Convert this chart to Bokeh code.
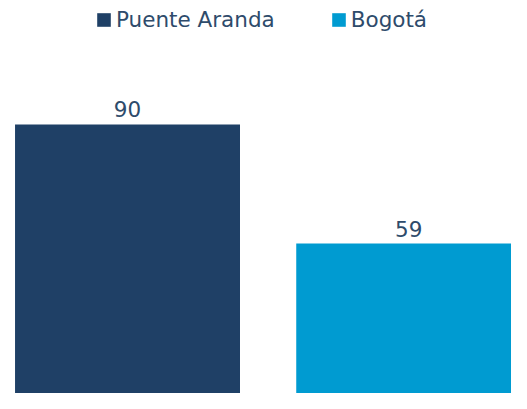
from bokeh.plotting import figure
from bokeh.models import ColumnDataSource, Range1d, LabelSet, Legend, LegendItem
from bokeh.core.properties import value
from bokeh.embed import file_html
from bokeh.resources import INLINE

categories = ["Puente Aranda", "Bogotá"]
values = [90, 59]
colors = ["#1F4066", "#009BD1"]
labels = [str(v) for v in values]

FONT = "DejaVu Sans"
TEXT_COLOR = "#2E4B6B"

xs = list(range(len(categories)))
src = ColumnDataSource(dict(x=xs, top=values, label=labels))

p = figure(width=511, height=393, output_backend="svg", toolbar_location=None,
           x_range=Range1d(-0.4517, 1.3655), y_range=Range1d(20, 122.25),
           min_border=0)
p.axis.visible = False
p.grid.visible = False
p.outline_line_color = None
p.background_fill_color = "white"

items = []
for i, c in enumerate(categories):
    s = ColumnDataSource(dict(x=[xs[i]], top=[values[i]]))
    r = p.vbar(x="x", top="top", bottom=0, width=0.8, source=s,
               fill_color=colors[i], line_color=None)
    items.append(LegendItem(label=c, renderers=[r]))

lbl = LabelSet(x="x", y="top", text="label", source=src, text_align="center",
               text_baseline="alphabetic", y_offset=7, text_font=value(FONT),
               text_font_size=value("21.5px"), text_color=value(TEXT_COLOR))
p.add_layout(lbl)

legend = Legend(items=items, orientation="horizontal", location=(95, 361),
                label_text_font=FONT, label_text_font_size="21.5px",
                label_text_color=TEXT_COLOR, glyph_width=17, glyph_height=17,
                spacing=55, label_standoff=4, padding=0, margin=0,
                border_line_color=None, background_fill_alpha=0)
p.add_layout(legend, "center")

open("out.html", "w").write(file_html(p, INLINE))
